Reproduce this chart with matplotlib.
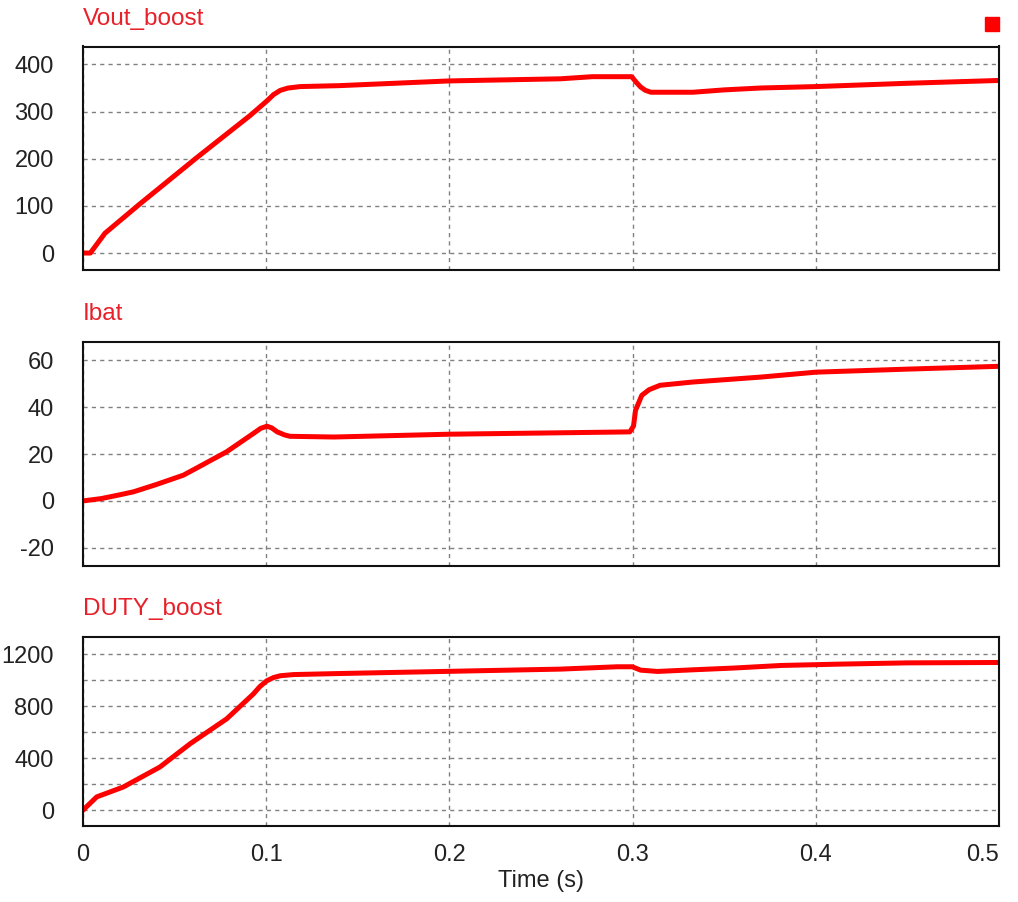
import numpy as np
import matplotlib.pyplot as plt
from matplotlib.patches import Rectangle

plt.rcParams['font.family'] = ['Liberation Sans', 'DejaVu Sans']

# ---- data
t_vout = [0, 0.004, 0.012, 0.031, 0.062, 0.091, 0.1005, 0.104, 0.1077, 0.112, 0.1186, 0.14, 0.2,
          0.2607, 0.278, 0.2995, 0.302, 0.3044, 0.307, 0.31, 0.333, 0.35, 0.37, 0.4, 0.45, 0.5]
vout = [0, 0, 42, 104, 202, 291, 323, 336, 345, 350, 353, 355, 365,
        369.5, 374, 374, 362, 352, 345, 341, 341, 346, 350, 353, 360, 366]

t_ibat = [0, 0.01, 0.02, 0.0276, 0.04, 0.0548, 0.065, 0.0784, 0.093, 0.097, 0.1004, 0.103,
          0.106, 0.11, 0.113, 0.137, 0.2, 0.29,
          0.2985, 0.3005, 0.3016, 0.305, 0.309, 0.315, 0.333, 0.37, 0.4, 0.45, 0.5]
ibat = [0, 1.0, 2.6, 3.9, 7.0, 11, 15.3, 21, 28.8, 31, 31.9, 31.2,
        29.5, 28.2, 27.6, 27.3, 28.5, 29.4,
        29.5, 32, 38.7, 45.1, 47.5, 49.4, 50.8, 52.9, 55, 56.3, 57.5]

t_duty = [0, 0.0075, 0.022, 0.042, 0.0585, 0.0784, 0.093, 0.0965, 0.1003, 0.104, 0.1077, 0.115,
          0.14, 0.2607, 0.2916, 0.2998, 0.3044, 0.3135, 0.3335, 0.355, 0.381, 0.4118, 0.45, 0.5]
duty = [0, 102, 178, 332, 511, 702, 894, 950, 995, 1020, 1034, 1043,
        1051, 1085, 1103, 1103, 1077, 1067, 1080, 1093, 1113, 1123, 1133, 1136]

names = ['Vout_boost', 'Ibat', 'DUTY_boost']
ylims = [(-36, 438), (-27.8, 68.1), (-122, 1332)]
yticks = [[0, 100, 200, 300, 400], [-20, 0, 20, 40, 60],
          [0, 200, 400, 600, 800, 1000, 1200]]
ylabels = [['0', '100', '200', '300', '400'], ['-20', '0', '20', '40', '60'],
           ['0', '', '400', '', '800', '', '1200']]
xticks = [0, 0.1, 0.2, 0.3, 0.4, 0.5]
xlabels = ['0', '0.1', '0.2', '0.3', '0.4', '0.5']

W, H = 1018, 902
fig = plt.figure(figsize=(W / 100, H / 100), dpi=100)
# axes boxes in pixels: (top, bottom)
boxes = [(46.5, 270), (341.5, 566), (637, 826)]
left, right = 83, 999
series = [(t_vout, vout), (t_ibat, ibat), (t_duty, duty)]

red = '#ff0000'
for i, (top, bot) in enumerate(boxes):
    ax = fig.add_axes([left / W, 1 - bot / H, (right - left) / W, (bot - top) / H])
    t, v = series[i]
    ax.plot(t, v, color=red, linewidth=3.6, solid_joinstyle='round')
    ax.set_xlim(0, 0.5)
    ax.set_ylim(*ylims[i])
    ax.set_yticks(yticks[i])
    ax.set_yticklabels(ylabels[i])
    ax.set_xticks(xticks)
    ax.grid(True, color='#808080', linestyle=(0, (3, 3)), linewidth=1.0)
    ax.tick_params(length=0, labelsize=17, colors='#222222', pad=21)
    for s in ax.spines.values():
        s.set_linewidth(1.5)
        s.set_color('#111111')
    if i < 2:
        ax.set_xticklabels([])
    else:
        ax.tick_params(axis='x', pad=13)
        ax.set_xticklabels(xlabels)
        ax.get_xticklabels()[-1].set_horizontalalignment('right')
        ax.set_xlabel('Time (s)', fontsize=17, color='#222222', labelpad=3)
    fig.text(left / W, 1 - (top - 28) / H, names[i], color='#e8202a',
             fontsize=17.5, ha='left', va='center')

fig.add_artist(Rectangle((985 / W, 1 - 31 / H), 14 / W, 14 / H,
                         transform=fig.transFigure, color=red))

fig.savefig('out.png', dpi=100)
